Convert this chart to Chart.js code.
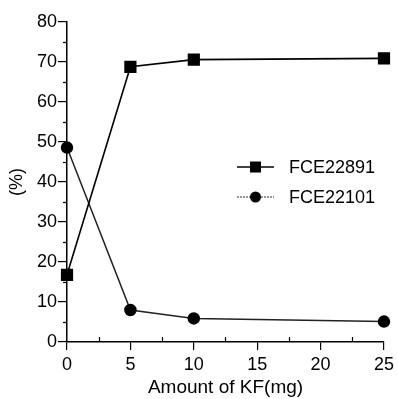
<!DOCTYPE html>
<html>
<head>
<meta charset="utf-8">
<script src="https://cdn.jsdelivr.net/npm/chart.js@4/dist/chart.umd.min.js"></script>
<style>
html,body{margin:0;padding:0;background:#fff;}
#wrap{width:398px;height:399px;position:relative;}
</style>
</head>
<body>
<div id="wrap"><canvas id="c"></canvas></div>
<script>
const kfAmount = [0, 5, 10, 25];
const fce22891 = [16.8, 68.8, 70.6, 70.9];
const fce22101 = [48.6, 8.0, 5.9, 5.1];
const seriesNames = ['FCE22891', 'FCE22101'];
const xTitle = 'Amount of KF(mg)';
const yTitle = '(%)';

const FONT = "'Liberation Sans', Arial, Helvetica, sans-serif";

const extras = {
  id: 'extras',
  afterDraw(chart) {
    const ctx = chart.ctx;
    const xs = chart.scales.x, ys = chart.scales.y;
    const ca = chart.chartArea;
    ctx.save();
    ctx.strokeStyle = '#000';
    ctx.lineWidth = 1.2;
    // minor y ticks (outside)
    for (let v = 5; v < 80; v += 10) {
      const py = Math.round(ys.getPixelForValue(v)) + 0.5;
      ctx.beginPath(); ctx.moveTo(ca.left - 4, py); ctx.lineTo(ca.left, py); ctx.stroke();
    }
    // minor x ticks (inside)
    for (let v = 2.5; v < 25; v += 5) {
      const px = Math.round(xs.getPixelForValue(v)) + 0.5;
      ctx.beginPath(); ctx.moveTo(px, ca.bottom); ctx.lineTo(px, ca.bottom - 5); ctx.stroke();
    }
    // legend
    const lx = ca.left + 170, ly0 = ca.top + 145, gap = 30;
    chart.data.datasets.forEach((ds, i) => {
      const y = ly0 + i * gap;
      ctx.strokeStyle = ds.legendLine;
      ctx.lineWidth = 1.5;
      if (ds.legendDash) ctx.setLineDash(ds.legendDash); else ctx.setLineDash([]);
      ctx.beginPath(); ctx.moveTo(lx, y); ctx.lineTo(lx + 37, y); ctx.stroke();
      ctx.setLineDash([]);
      ctx.fillStyle = '#000';
      if (ds.pointStyle === 'rect') {
        ctx.fillRect(lx + 13, y - 5.5, 11, 11);
      } else {
        ctx.beginPath(); ctx.arc(lx + 18.5, y, 5.5, 0, Math.PI * 2); ctx.fill();
      }
      ctx.font = '18px ' + FONT;
      ctx.textBaseline = 'middle';
      ctx.textAlign = 'left';
      ctx.fillText(ds.label, lx + 52, y + 1);
    });
    ctx.restore();
  }
};

new Chart(document.getElementById('c'), {
  type: 'line',
  data: {
    datasets: [
      {
        label: seriesNames[0],
        data: kfAmount.map((x, i) => ({x, y: fce22891[i]})),
        borderColor: '#000', backgroundColor: '#000',
        borderWidth: 1.6, pointStyle: 'rect', pointRadius: 7.5, pointHoverRadius: 7.5,
        legendLine: '#000', clip: false, tension: 0
      },
      {
        label: seriesNames[1],
        data: kfAmount.map((x, i) => ({x, y: fce22101[i]})),
        borderColor: '#222', backgroundColor: '#000', pointBorderColor: '#000',
        borderWidth: 1.5, pointStyle: 'circle', pointRadius: 5.5, pointHoverRadius: 5.5,
        legendLine: '#777', legendDash: [2, 1], clip: false, tension: 0
      }
    ]
  },
  options: {
    responsive: true,
    maintainAspectRatio: false,
    animation: false,
    events: [],
    layout: { padding: { top: 22, right: 11, left: 0, bottom: 0 } },
    plugins: { legend: { display: false }, tooltip: { enabled: false } },
    scales: {
      x: {
        type: 'linear', min: 0, max: 25,
        afterFit(s) { s.height = 57; },
        ticks: { stepSize: 5, color: '#000', font: { family: FONT, size: 18 }, padding: 4, maxRotation: 0 },
        grid: { drawOnChartArea: false, drawTicks: true, tickLength: 8, color: '#000', lineWidth: 1.2 },
        border: { display: true, color: '#000', width: 1.5 },
        title: { display: true, text: xTitle, color: '#000', font: { family: FONT, size: 19 }, padding: { top: 0, bottom: 0 } }
      },
      y: {
        min: 0, max: 80,
        afterFit(s) { s.width = 67; },
        ticks: { stepSize: 10, color: '#000', font: { family: FONT, size: 18 }, padding: 1 },
        grid: { drawOnChartArea: false, drawTicks: true, tickLength: 9, color: '#000', lineWidth: 1.2 },
        border: { display: true, color: '#000', width: 1.5 },
        title: { display: true, text: yTitle, color: '#000', font: { family: FONT, size: 18 }, padding: { top: 6, bottom: 0 } }
      }
    }
  },
  plugins: [extras]
});
</script>
</body>
</html>
